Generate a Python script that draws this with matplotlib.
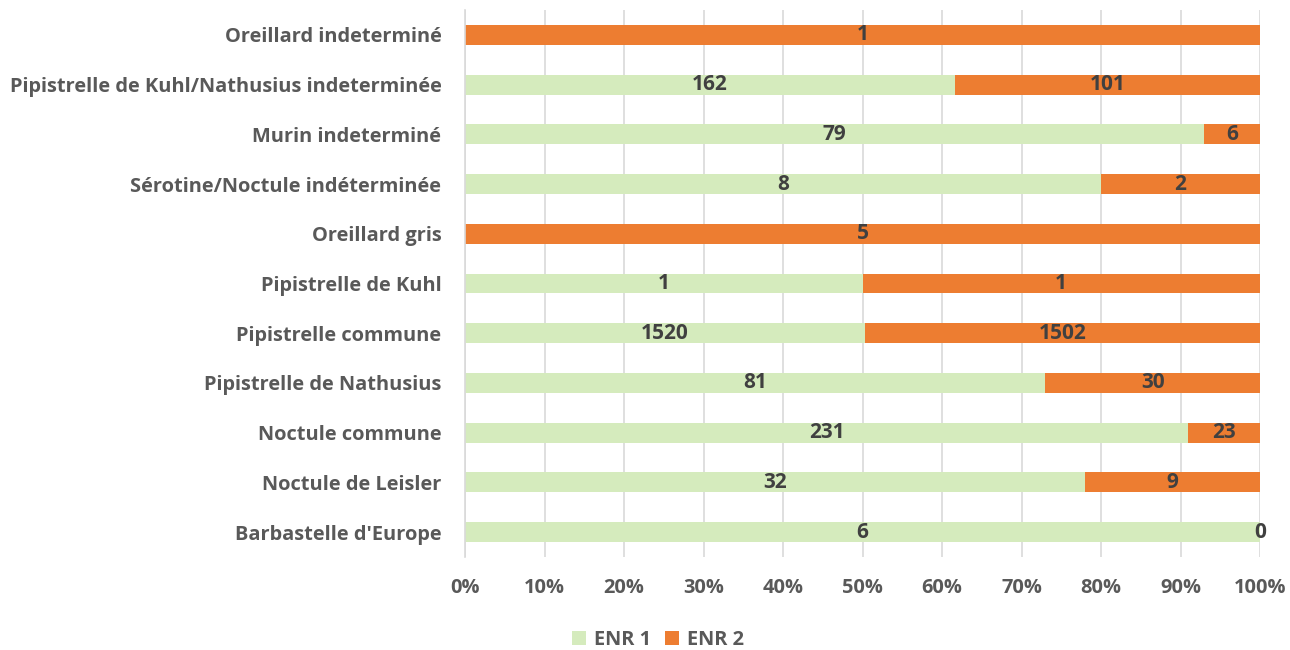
import matplotlib.pyplot as plt
import numpy as np
from matplotlib.ticker import PercentFormatter

# --- Data (bottom to top) ---
species = ["Barbastelle d'Europe", "Noctule de Leisler", "Noctule commune",
           "Pipistrelle de Nathusius", "Pipistrelle commune", "Pipistrelle de Kuhl",
           "Oreillard gris", "Sérotine/Noctule indéterminée", "Murin indeterminé",
           "Pipistrelle de Kuhl/Nathusius indeterminée", "Oreillard indeterminé"]
enr1 = [6, 32, 231, 81, 1520, 1, 0, 8, 79, 162, 0]
enr2 = [0, 9, 23, 30, 1502, 1, 5, 2, 6, 101, 1]

green = '#d5ebbd'
orange = '#ed7d31'
label_col = '#595959'
value_col = '#404040'
font = 'Open Sans'
fsize = 14.4

a = np.array(enr1, dtype=float)
b = np.array(enr2, dtype=float)
tot = a + b
p1 = a / tot
p2 = b / tot
y = np.arange(len(species))

fig = plt.figure(figsize=(12.9, 6.5), dpi=100)
ax = fig.add_axes([465 / 1290, 1 - 557 / 650, 795 / 1290, 547 / 650])

ax.barh(y, p1, height=0.4, color=green, label='ENR 1', zorder=2)
ax.barh(y, p2, left=p1, height=0.4, color=orange, label='ENR 2', zorder=2)

# --- Value labels ---
for i in range(len(species)):
    if enr1[i] > 0:
        ax.text(p1[i] / 2, y[i], str(enr1[i]), ha='center', va='center',
                fontsize=15, fontweight='bold', color=value_col, family=font, zorder=3)
    ax.text(p1[i] + p2[i] / 2, y[i], str(enr2[i]), ha='center', va='center',
            fontsize=15, fontweight='bold', color=value_col, family=font, zorder=3)

# --- Axes style ---
ax.set_xlim(0, 1)
ax.set_ylim(-0.5, len(species) - 0.5)
ax.set_xticks(np.linspace(0, 1, 11))
ax.xaxis.set_major_formatter(PercentFormatter(1.0, decimals=0))
ax.set_yticks(y)
ax.set_yticklabels(species)
ax.grid(axis='x', color='#d9d9d9', linewidth=1.2, zorder=0)
ax.set_axisbelow(True)
for s in ['top', 'right', 'bottom']:
    ax.spines[s].set_visible(False)
ax.spines['left'].set_color('#d9d9d9')
ax.spines['left'].set_linewidth(1.2)
ax.tick_params(axis='both', length=0, labelcolor=label_col)
ax.tick_params(axis='x', pad=15)
ax.tick_params(axis='y', pad=17)
for lab in ax.get_xticklabels() + ax.get_yticklabels():
    lab.set_fontfamily(font)
    lab.set_fontweight('bold')
    lab.set_fontsize(fsize)

leg = fig.legend(loc='center', bbox_to_anchor=(658 / 1290, 1 - 640 / 650), ncol=2,
                 frameon=False, handlelength=0.7, handleheight=0.7, columnspacing=0.7,
                 handletextpad=0.4, prop={'family': font, 'weight': 'bold', 'size': fsize})
for t in leg.get_texts():
    t.set_color(label_col)

fig.savefig('out.png', dpi=100)
